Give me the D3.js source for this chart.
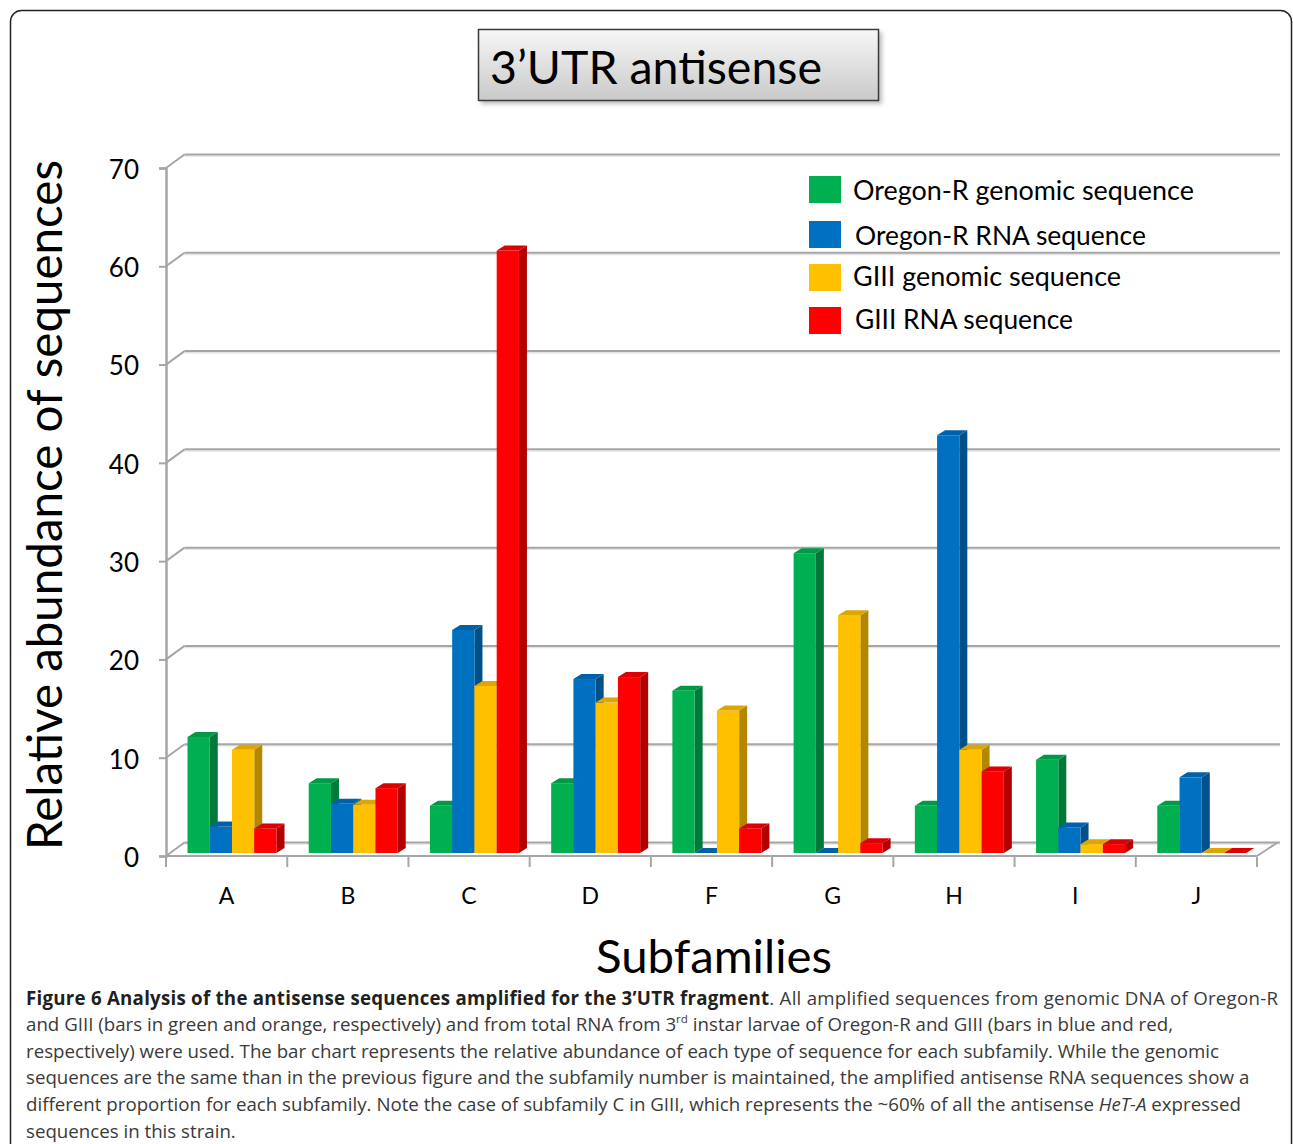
<!DOCTYPE html>
<html>
<head>
<meta charset="utf-8">
<script src="https://cdn.jsdelivr.net/npm/d3@7"></script>
<style>
  html, body { margin: 0; padding: 0; background: #fff; }
  svg { display: block; }
</style>
</head>
<body>
<svg id="chart" width="1293" height="1144"></svg>
<script>
// Subfamilies along the category axis
const categories = ["A", "B", "C", "D", "F", "G", "H", "I", "J"];

// Series names (legend order)
const seriesNames = [
  "Oregon-R genomic sequence",
  "Oregon-R RNA sequence",
  "GIII genomic sequence",
  "GIII RNA sequence"
];

// Relative abundance of sequences (%) per subfamily
const oregonGenomic = [11.8, 7.1, 4.8, 7.1, 16.5, 30.5, 4.8, 9.5, 4.8];
const oregonRNA     = [2.7, 5.0, 22.7, 17.7, 0, 0, 42.5, 2.6, 7.7];
const giiiGenomic   = [10.5, 4.9, 17.0, 15.3, 14.5, 24.2, 10.5, 0.9, 0];
const giiiRNA       = [2.5, 6.6, 61.3, 17.9, 2.5, 1.0, 8.3, 0.9, 0];

const yTicks = [0, 10, 20, 30, 40, 50, 60, 70];

const seriesValues = [oregonGenomic, oregonRNA, giiiGenomic, giiiRNA];
const palette = [
  { front: "#00B050", side: "#007A3A", top: "#009945" },
  { front: "#0070C0", side: "#00508A", top: "#0061A8" },
  { front: "#FFC000", side: "#B38800", top: "#DDA600" },
  { front: "#FF0000", side: "#B30000", top: "#DD0000" }
];

const svg = d3.select("#chart");

// ---- outer frame ----
svg.append("rect")
  .attr("x", 10.5).attr("y", 10.5)
  .attr("width", 1281).attr("height", 1250)
  .attr("rx", 11)
  .attr("fill", "none").attr("stroke", "#222").attr("stroke-width", 1.5);

// ---- geometry of the 3D frame ----
const depth = { dx: 18.5, dy: -13.5 };      // front edge -> back wall
const frontX0 = 166, frontX1 = 1257;
const yFront = d3.scaleLinear().domain([0, 70]).range([856, 168]);
const yBack = v => yFront(v) + depth.dy;
const yBar = d3.scaleLinear().domain([0, 70]).range([853, 853 - 688]);

const gridColor = "#A6A6A6";
const g = svg.append("g");

// back-wall gridlines + left side-wall diagonals
yTicks.forEach(v => {
  g.append("line")
    .attr("x1", frontX0 + depth.dx).attr("x2", 1280)
    .attr("y1", yBack(v) + 1.6).attr("y2", yBack(v) + 1.6)
    .attr("stroke", "#E4E4E4").attr("stroke-width", 1.5);
  g.append("line")
    .attr("x1", frontX0 + depth.dx).attr("x2", 1280)
    .attr("y1", yBack(v)).attr("y2", yBack(v))
    .attr("stroke", gridColor).attr("stroke-width", 2);
  g.append("line")
    .attr("x1", frontX0).attr("y1", yFront(v))
    .attr("x2", frontX0 + depth.dx).attr("y2", yBack(v))
    .attr("stroke", gridColor).attr("stroke-width", 2);
});

// floor front edge and right diagonal
g.append("line")
  .attr("x1", frontX0).attr("x2", frontX1)
  .attr("y1", yFront(0)).attr("y2", yFront(0))
  .attr("stroke", gridColor).attr("stroke-width", 2);
g.append("line")
  .attr("x1", frontX1).attr("y1", yFront(0))
  .attr("x2", frontX1 + depth.dx + 2).attr("y2", yBack(0))
  .attr("stroke", gridColor).attr("stroke-width", 2);

// y axis (front) with ticks
const yAxis = d3.axisLeft(yFront).tickValues(yTicks).tickSize(7).tickPadding(20);
const yAxisG = svg.append("g")
  .attr("transform", `translate(${frontX0},0)`)
  .call(yAxis);
yAxisG.select(".domain").attr("stroke", gridColor).attr("stroke-width", 2.5);
yAxisG.selectAll(".tick line").attr("stroke", gridColor).attr("stroke-width", 2);
yAxisG.selectAll(".tick text")
  .attr("fill", "#000")
  .attr("dy", "0.4em")
  .style("font-family", "Lato, 'Open Sans', sans-serif")
  .style("font-size", "26px");

// x axis (front floor edge) with category ticks between groups
const xBand = d3.scaleBand().domain(categories).range([frontX0, frontX1]);
const xAxis = d3.axisBottom(xBand).tickSize(0).tickPadding(32);
const xAxisG = svg.append("g")
  .attr("transform", `translate(0,${yFront(0)})`)
  .call(xAxis);
xAxisG.select(".domain").remove();
xAxisG.selectAll(".tick text")
  .attr("fill", "#000")
  .style("font-family", "Lato, 'Open Sans', sans-serif")
  .style("font-size", "23px");
const boundaries = categories.map(c => xBand(c)).concat([frontX1]);
svg.append("g").selectAll("line")
  .data(boundaries)
  .join("line")
  .attr("x1", d => d).attr("x2", d => d)
  .attr("y1", yFront(0) + 1).attr("y2", yFront(0) + 11)
  .attr("stroke", gridColor).attr("stroke-width", 2);

// ---- 3D bars ----
const barShift = 4.5;                 // bars stand slightly behind the front edge
const xSub = d3.scaleBand().domain(d3.range(seriesNames.length)).range([17, 106]);
const bd = { dx: 8, dy: -5 };          // depth of each bar

const bars = svg.append("g");
categories.forEach((cat, ci) => {
  seriesValues.forEach((vals, si) => {
    const v = vals[ci];
    const x = xBand(cat) + barShift + xSub(si);
    const w = xSub.bandwidth();
    const y0 = yBar(0), y1 = yBar(v);
    const col = palette[si];
    const bg = bars.append("g");
    // side face
    bg.append("path")
      .attr("d", `M${x + w},${y1} L${x + w + bd.dx},${y1 + bd.dy} L${x + w + bd.dx},${y0 + bd.dy} L${x + w},${y0} Z`)
      .attr("fill", col.side);
    // front face
    if (v > 0) {
      bg.append("rect")
        .attr("x", x).attr("y", y1)
        .attr("width", w).attr("height", y0 - y1)
        .attr("fill", col.front);
    }
    // top face
    bg.append("path")
      .attr("d", `M${x},${y1} L${x + w},${y1} L${x + w + bd.dx},${y1 + bd.dy} L${x + bd.dx},${y1 + bd.dy} Z`)
      .attr("fill", col.top);
  });
});

// Scale a text element's font so its rendered width equals the target width
function fitWidth(sel, target) {
  const node = sel.node();
  const fs = parseFloat(sel.style("font-size"));
  const len = node.getComputedTextLength();
  if (len > 0) sel.style("font-size", (fs * target / len).toFixed(2) + "px");
  return sel;
}

// ---- legend ----
const legendRows = [
  { y: 176, tx: 853, base: 200, w: 341 },
  { y: 221, tx: 855, base: 245, w: 291 },
  { y: 264, tx: 853, base: 286, w: 268 },
  { y: 307, tx: 855, base: 329, w: 218 }
];
const legend = svg.append("g");
seriesNames.forEach((name, i) => {
  const r = legendRows[i];
  legend.append("rect")
    .attr("x", 809).attr("y", r.y)
    .attr("width", 32).attr("height", 27)
    .attr("fill", palette[i].front);
  const t = legend.append("text")
    .attr("x", r.tx).attr("y", r.base)
    .style("font-family", "Lato, 'Open Sans', sans-serif")
    .style("font-size", "26px")
    .attr("fill", "#000")
    .text(name);
  fitWidth(t, r.w);
});

// ---- title box ----
const defs = svg.append("defs");
const grad = defs.append("linearGradient")
  .attr("id", "titleFill").attr("x1", 0).attr("x2", 0).attr("y1", 0).attr("y2", 1);
grad.append("stop").attr("offset", "0%").attr("stop-color", "#F7F7F7");
grad.append("stop").attr("offset", "100%").attr("stop-color", "#C9C9C9");
const blur = defs.append("filter").attr("id", "shadow")
  .attr("x", "-10%").attr("y", "-10%").attr("width", "130%").attr("height", "150%");
blur.append("feGaussianBlur").attr("stdDeviation", 2);

svg.append("rect")
  .attr("x", 481).attr("y", 32).attr("width", 401).attr("height", 72)
  .attr("fill", "#BDBDBD").attr("filter", "url(#shadow)");
svg.append("rect")
  .attr("x", 478.5).attr("y", 29.5).attr("width", 400).attr("height", 71)
  .attr("fill", "url(#titleFill)").attr("stroke", "#3A3A3A").attr("stroke-width", 1.5);
const title = svg.append("text")
  .attr("x", 490).attr("y", 84)
  .style("font-family", "Lato, 'Open Sans', sans-serif")
  .style("font-size", "46px")
  .attr("fill", "#000")
  .text("3’UTR antisense");
fitWidth(title, 332);

// ---- axis titles ----
const yTitle = svg.append("text")
  .attr("transform", "translate(62,505) rotate(-90)")
  .attr("text-anchor", "middle")
  .style("font-family", "Lato, 'Open Sans', sans-serif")
  .style("font-size", "44px")
  .attr("fill", "#000")
  .text("Relative abundance of sequences");
fitWidth(yTitle, 690);

const xTitle = svg.append("text")
  .attr("x", 714).attr("y", 973)
  .attr("text-anchor", "middle")
  .style("font-family", "Lato, 'Open Sans', sans-serif")
  .style("font-size", "44px")
  .attr("fill", "#000")
  .text("Subfamilies");
fitWidth(xTitle, 236);

// ---- figure caption ----
const capFont = "'Open Sans', 'Noto Sans', sans-serif";
const capColor = "#3A3A3A";
const cap = svg.append("g")
  .style("font-family", capFont)
  .attr("fill", capColor);
const capLines = [
  { y: 1005, w: 1252, parts: [
    { t: "Figure 6 Analysis of the antisense sequences amplified for the 3’UTR fragment", b: true },
    { t: ". All amplified sequences from genomic DNA of Oregon-R" }] },
  { y: 1031, w: null, parts: [
    { t: "and GIII (bars in green and orange, respectively) and from total RNA from 3" },
    { t: "rd", sup: true },
    { t: " instar larvae of Oregon-R and GIII (bars in blue and red," }] },
  { y: 1058, w: null, parts: [
    { t: "respectively) were used. The bar chart represents the relative abundance of each type of sequence for each subfamily. While the genomic" }] },
  { y: 1084, w: null, parts: [
    { t: "sequences are the same than in the previous figure and the subfamily number is maintained, the amplified antisense RNA sequences show a" }] },
  { y: 1111, w: null, parts: [
    { t: "different proportion for each subfamily. Note the case of subfamily C in GIII, which represents the ~60% of all the antisense " },
    { t: "HeT-A", i: true },
    { t: " expressed" }] },
  { y: 1138, w: null, parts: [
    { t: "sequences in this strain." }] }
];

// base caption size derived from a full-width plain line
const probe = cap.append("text").attr("x", 26).attr("y", -100)
  .style("font-size", "18px").text(capLines[2].parts[0].t);
const capSize = 18 * 1194 / probe.node().getComputedTextLength();
probe.remove();

capLines.forEach(line => {
  const t = cap.append("text")
    .attr("x", 26).attr("y", line.y)
    .style("font-size", capSize.toFixed(2) + "px");
  line.parts.forEach(p => {
    const s = t.append("tspan").text(p.t);
    if (p.b) s.style("font-weight", "bold").attr("fill", "#231F20");
    if (p.i) s.style("font-style", "italic");
    if (p.sup) s.attr("dy", -8).style("font-size", (capSize * 0.62).toFixed(2) + "px");
  });
  // undo superscript shift for following text
  t.selectAll("tspan").each(function(d, i, nodes) {
    const prev = nodes[i - 1];
    if (prev && d3.select(prev).attr("dy") === "-8") d3.select(this).attr("dy", 8);
  });
  if (line.w) t.attr("textLength", line.w).attr("lengthAdjust", "spacing");
});
</script>
</body>
</html>
